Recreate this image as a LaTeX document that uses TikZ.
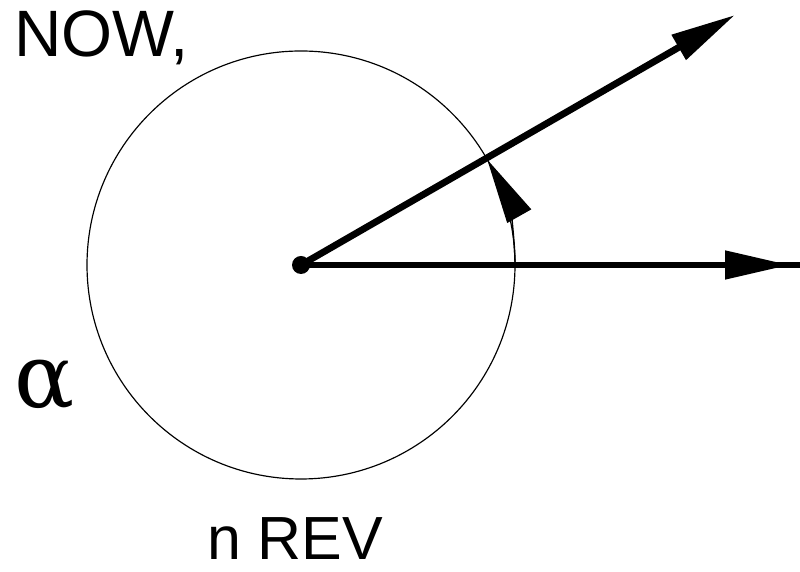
\documentclass[tikz,border=0pt]{standalone}
\usepackage{fontspec}
\setmainfont{Liberation Sans}
\newfontfamily\greekfont{DejaVu Serif}
\usetikzlibrary{arrows.meta}
\begin{document}
\begin{tikzpicture}[x=0.03cm,y=0.03cm,
  thickline/.style={line width=5.8pt},
  bigtip/.style={-{Triangle[length=1.95cm,width=0.82cm]}},
  label/.style={inner sep=0pt,anchor=base west}]
\useasboundingbox (0,0) rectangle (800,572);
\node[circle,fill=black,inner sep=0pt,minimum size=0.54cm] (c) at (301,307) {};
\coordinate (tipA) at (735,557);
\coordinate (endH) at (800,307);
\coordinate (tipH) at (790,307);
\draw[line width=1pt] (c.center) circle[radius=214];
\draw[thickline,bigtip] (c.center) -- (tipA);
\draw[thickline] (c.center) -- (endH);
\draw[thickline,bigtip] (c.center) -- (tipH);
\draw[line width=1.2pt,-{Triangle[length=1.95cm,width=0.82cm]}] (c.center) ++(0:214) arc[start angle=0,end angle=29.5,radius=214];
\node[label,font=\fontsize{56pt}{60pt}\selectfont] (now) at (14,515) {NOW,};
\node[label,text depth=0pt,font=\fontsize{52pt}{56pt}\selectfont] (rev) at (207,12) {n REV};
\node[label,font=\greekfont\fontsize{76pt}{80pt}\selectfont] (alpha) at (14,164) {α};
\end{tikzpicture}
\end{document}
